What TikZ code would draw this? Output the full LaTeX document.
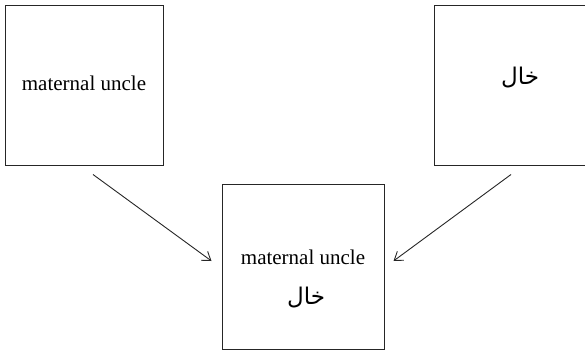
\documentclass[tikz,border=0pt]{standalone}
\usepackage{fontspec}
\setmainfont{Liberation Serif}
\newfontfamily\arabicfont[Script=Arabic]{DejaVu Sans}
\TeXXeTstate=1
\usetikzlibrary{arrows.meta}
\tikzset{
  wordbox/.style={draw=black!85, line width=1pt, minimum width=158pt, minimum height=160pt, inner sep=0pt},
  entext/.style={font=\fontsize{21}{25}\selectfont, inner sep=0pt},
  artext/.style={font=\fontsize{23}{27}\arabicfont, inner sep=0pt},
  arr/.style={draw=black!85, line width=0.9pt, -{Straight Barb[length=8pt,width=11pt,line width=0.9pt]}}
}
\newcommand{\khal}{\beginR خال\endR}
\begin{document}
\begin{tikzpicture}[x=1pt,y=-1pt]
  \useasboundingbox (0,0) rectangle (585,351);
  \clip (0,0) rectangle (585,351);
  % source boxes (the right one runs past the page edge)
  \node[wordbox] (lbox) at (84,85) {};
  \node[entext] (ltext) at (84,83) {maternal uncle};
  \node[wordbox, minimum width=180pt] (rbox) at (524,85) {};
  \node[artext] (rtext) at (520,78) {\khal};
  % combined box
  \node[wordbox, minimum width=162pt, minimum height=165pt] (bbox) at (303,266.5) {};
  \node[entext] (btext) at (303,257) {maternal uncle};
  \node[artext] (barab) at (306,298) {\khal};
  % connectors
  \draw[arr] ([shift={(9,9)}]lbox.south) -- ([shift={(-10,-5.5)}]bbox.west);
  \draw[arr] ([shift={(-13,9)}]rbox.south) -- ([shift={(9,-5.5)}]bbox.east);
\end{tikzpicture}
\end{document}
